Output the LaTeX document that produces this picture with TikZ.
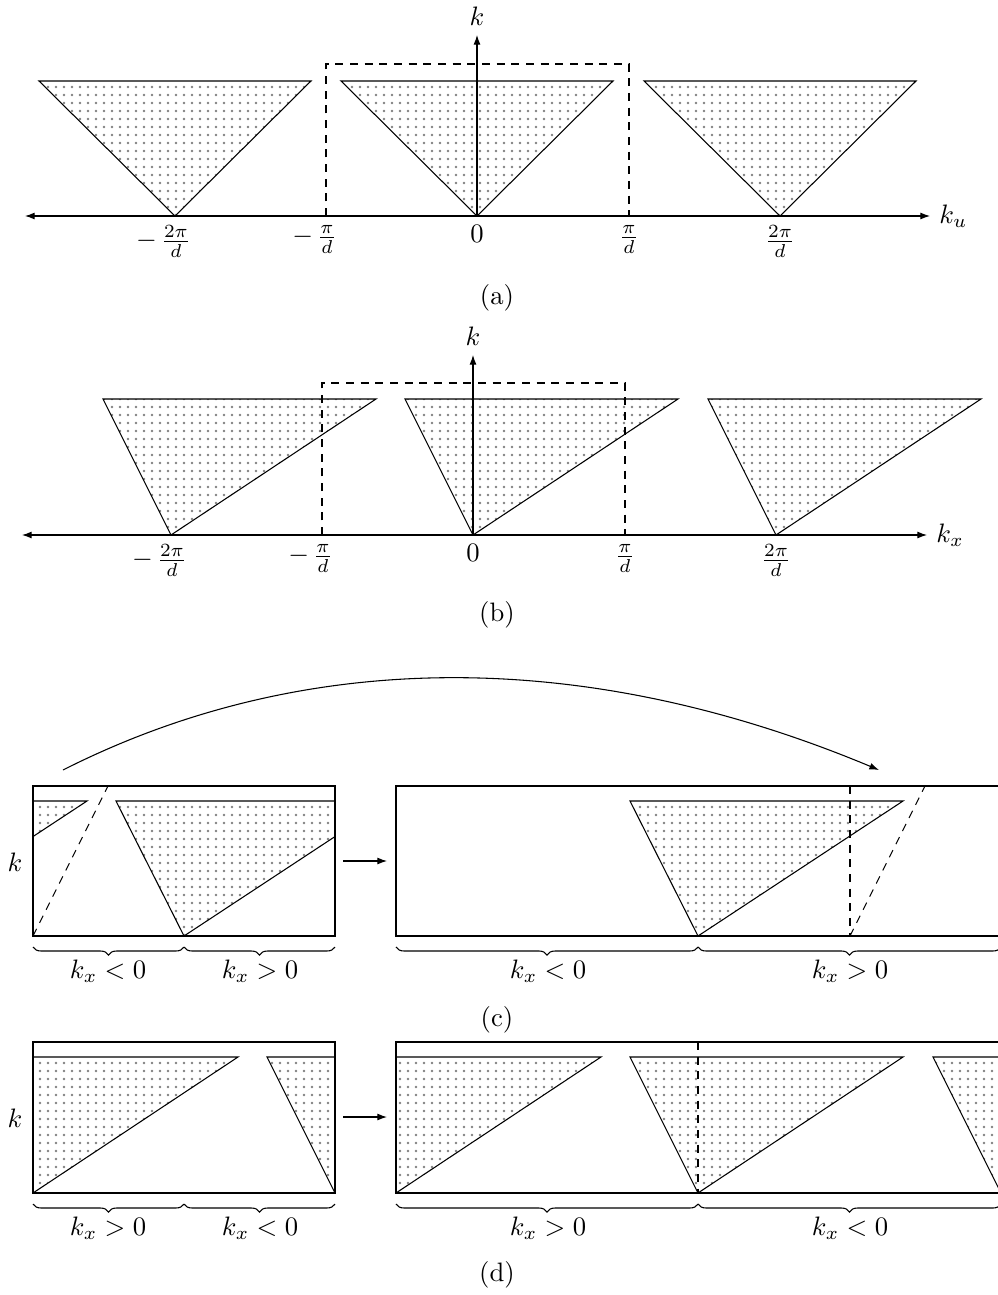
\documentclass[tikz,border=0pt]{standalone}
\usetikzlibrary{patterns,arrows.meta,decorations.pathreplacing}
\newcommand{\negfr}[1]{$\llap{$-$\kern1.5pt}\frac{#1}{d}$}
\begin{document}
\begin{tikzpicture}[x=0.375pt,y=-0.375pt,
  >={Latex[length=3.6pt,width=2.6pt]},
  line width=0.4pt,
  tri/.style={draw,pattern=dots,pattern color=gray},
  dsh/.style={dash pattern=on 3pt off 2.5pt},
  brc/.style={decorate,decoration={brace,mirror,amplitude=3pt}},
  lab/.style={anchor=base,inner sep=0pt}]
\useasboundingbox (0,0) rectangle (997,1295);

% ---------- (a)
\foreach \c in {175,477,780}
  \draw[tri] ({\c-136},81) -- ({\c+136},81) -- (\c,216) -- cycle;
\draw[dsh] (326,216) -- (326,64) -- (629,64) -- (629,216);
\coordinate (aL) at (25,216);
\coordinate (aR) at (930,216);
\coordinate (aO) at (477,216);
\coordinate (aT) at (477,35);
\draw[<->] (aL) -- (aR);
\draw[->] (aO) -- (aT);
\node[right] (aku) at (aR) {$k_u$};
\node[above] (ak) at (aT) {$k$};
\node[below] (a1) at (176,216) {\negfr{2\pi}};
\node[below] (a2) at (327,216) {\negfr{\pi}};
\node[below] (a3) at (477,216) {$0$};
\node[below] (a4) at (629,216) {$\frac{\pi}{d}$};
\node[below] (a5) at (780,216) {$\frac{2\pi}{d}$};
\node (capa) at (497,298) {(a)};

% ---------- (b)
\foreach \c in {171,473,776}
  \draw[tri] ({\c-68},399) -- ({\c+205},399) -- (\c,535) -- cycle;
\draw[dsh] (322,535) -- (322,383) -- (625,383) -- (625,535);
\coordinate (bL) at (22,535);
\coordinate (bR) at (927,535);
\coordinate (bO) at (473,535);
\coordinate (bT) at (473,355);
\draw[<->] (bL) -- (bR);
\draw[->] (bO) -- (bT);
\node[right] (bkx) at (bR) {$k_x$};
\node[above] (bk) at (bT) {$k$};
\node[below] (b1) at (172,535) {\negfr{2\pi}};
\node[below] (b2) at (323,535) {\negfr{\pi}};
\node[below] (b3) at (473,535) {$0$};
\node[below] (b4) at (625,535) {$\frac{\pi}{d}$};
\node[below] (b5) at (776,535) {$\frac{2\pi}{d}$};
\node (capb) at (497,615) {(b)};

% ---------- (c)
\begin{scope}
  \clip (33,786) rectangle (335,936);
  \foreach \c in {-118,184}
    \draw[tri] ({\c-68},801) -- ({\c+205},801) -- (\c,936) -- cycle;
\end{scope}
\draw[dsh] (33,936) -- (108,786);
\draw (33,786) rectangle (335,936);
\begin{scope}
  \clip (396,786) rectangle (1001,936);
  \draw[tri] (630,801) -- (903,801) -- (698,936) -- cycle;
\end{scope}
\draw[dsh] (850,786) -- (850,936);
\draw[dsh] (850,936) -- (925,786);
\draw (396,786) rectangle (1001,936);
\draw[brc] (33,947) -- (184,947);
\draw[brc] (184,947) -- (335,947);
\draw[brc] (396,947) -- (698,947);
\draw[brc] (698,947) -- (1001,947);
\node[lab] (c1) at (108,978) {$k_x<0$};
\node[lab] (c2) at (260,978) {$k_x>0$};
\node[lab] (c3) at (548,978) {$k_x<0$};
\node[lab] (c4) at (850,978) {$k_x>0$};
\node (ck) at (15,862) {$k$};
\coordinate (cA1) at (343,861);
\coordinate (cA2) at (387,861);
\draw[->] (cA1) -- (cA2);
\coordinate (arcS) at (63,770);
\coordinate (arcE) at (879,770);
\draw[->] (arcS) .. controls (300,650) and (580,645) .. (arcE);
\node (capc) at (497,1020) {(c)};

% ---------- (d)
\begin{scope}
  \clip (33,1042) rectangle (335,1193);
  \foreach \c in {33,335}
    \draw[tri] ({\c-68},1057) -- ({\c+205},1057) -- (\c,1193) -- cycle;
\end{scope}
\draw (33,1042) rectangle (335,1193);
\begin{scope}
  \clip (396,1042) rectangle (1001,1193);
  \foreach \c in {396,698,1001}
    \draw[tri] ({\c-68},1057) -- ({\c+205},1057) -- (\c,1193) -- cycle;
\end{scope}
\draw[dsh] (698,1042) -- (698,1193);
\draw (396,1042) rectangle (1001,1193);
\draw[brc] (33,1204) -- (184,1204);
\draw[brc] (184,1204) -- (335,1204);
\draw[brc] (396,1204) -- (698,1204);
\draw[brc] (698,1204) -- (1001,1204);
\node[lab] (d1) at (108,1235) {$k_x>0$};
\node[lab] (d2) at (260,1235) {$k_x<0$};
\node[lab] (d3) at (548,1235) {$k_x>0$};
\node[lab] (d4) at (850,1235) {$k_x<0$};
\node (dk) at (15,1118) {$k$};
\coordinate (dA1) at (343,1117);
\coordinate (dA2) at (387,1117);
\draw[->] (dA1) -- (dA2);
\node (capd) at (497,1275) {(d)};
\end{tikzpicture}
\end{document}
